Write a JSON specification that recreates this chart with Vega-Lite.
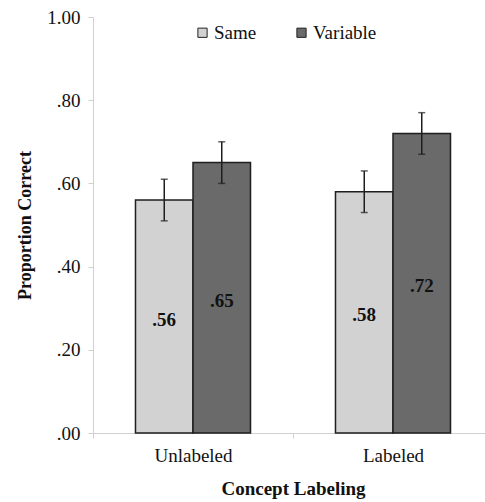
{
  "$schema": "https://vega.github.io/schema/vega-lite/v6.json",
  "autosize": {"type": "none"},
  "padding": {"left": 93, "top": 17, "right": 0, "bottom": 69},
  "width": 392,
  "height": 416,
  "background": "white",
  "config": {
    "view": {"stroke": null},
    "font": "Times New Roman, Liberation Serif, DejaVu Serif, serif"
  },
  "data": {
    "values": [
      {"concept": "Unlabeled", "condition": "Same", "value": 0.56, "lower": 0.51, "upper": 0.61, "label": ".56"},
      {"concept": "Unlabeled", "condition": "Variable", "value": 0.65, "lower": 0.60, "upper": 0.70, "label": ".65"},
      {"concept": "Labeled", "condition": "Same", "value": 0.58, "lower": 0.53, "upper": 0.63, "label": ".58"},
      {"concept": "Labeled", "condition": "Variable", "value": 0.72, "lower": 0.67, "upper": 0.77, "label": ".72"}
    ]
  },
  "encoding": {
    "x": {
      "field": "concept",
      "type": "nominal",
      "sort": ["Unlabeled", "Labeled"],
      "scale": {"range": [0, 400], "paddingInner": 0, "paddingOuter": 0},
      "axis": {
        "title": "Concept Labeling",
        "labelAngle": 0,
        "labelFont": "Times New Roman, Liberation Serif, DejaVu Serif, serif",
        "labelFontSize": 19,
        "labelColor": "#111",
        "labelPadding": 8,
        "titleFont": "Times New Roman, Liberation Serif, DejaVu Serif, serif",
        "titleFontSize": 19,
        "titleColor": "#111",
        "titleFontWeight": "bold",
        "titlePadding": 14,
        "tickBand": "extent",
        "tickSize": 5,
        "tickColor": "#d0d0d0",
        "domainColor": "#d0d0d0",
        "grid": false
      }
    },
    "xOffset": {
      "field": "condition",
      "type": "nominal",
      "sort": ["Same", "Variable"],
      "scale": {"paddingInner": 0, "paddingOuter": 0.739}
    }
  },
  "layer": [
    {
      "mark": {"type": "bar", "stroke": "#1e1e1e", "strokeWidth": 1.5},
      "encoding": {
        "y": {
          "field": "value",
          "type": "quantitative",
          "scale": {"domain": [0, 1]},
          "axis": {
            "title": "Proportion Correct",
            "values": [0, 0.2, 0.4, 0.6, 0.8, 1],
            "labelExpr": "replace(format(datum.value, '.2f'), /^0/, '')",
            "labelFont": "Times New Roman, Liberation Serif, DejaVu Serif, serif",
            "labelFontSize": 19,
            "labelColor": "#111",
            "labelPadding": 8,
            "tickSize": 5,
            "tickColor": "#d0d0d0",
            "domainColor": "#d0d0d0",
            "titleFont": "Times New Roman, Liberation Serif, DejaVu Serif, serif",
            "titleFontSize": 18,
            "titleColor": "#111",
            "titleFontWeight": "bold",
            "titlePadding": 12,
            "grid": false
          }
        },
        "fill": {
          "field": "condition",
          "type": "nominal",
          "sort": ["Same", "Variable"],
          "scale": {"domain": ["Same", "Variable"], "range": ["#d2d2d2", "#6a6a6a"]},
          "legend": {
            "title": null,
            "orient": "none",
            "direction": "horizontal",
            "legendX": 100,
            "legendY": 6,
            "padding": 0,
            "symbolType": "square",
            "symbolSize": 85,
            "symbolStrokeColor": "#222",
            "symbolStrokeWidth": 1,
            "labelFont": "Times New Roman, Liberation Serif, DejaVu Serif, serif",
            "labelFontSize": 19,
            "labelColor": "#111",
            "labelOffset": 2,
            "columnPadding": 35
          }
        }
      }
    },
    {
      "mark": {"type": "rule", "color": "#1e1e1e", "strokeWidth": 1.5},
      "encoding": {
        "y": {"field": "lower", "type": "quantitative"},
        "y2": {"field": "upper"}
      }
    },
    {
      "mark": {"type": "tick", "color": "#1e1e1e", "thickness": 1.5, "size": 7, "orient": "horizontal"},
      "encoding": {
        "y": {"field": "lower", "type": "quantitative"}
      }
    },
    {
      "mark": {"type": "tick", "color": "#1e1e1e", "thickness": 1.5, "size": 7, "orient": "horizontal"},
      "encoding": {
        "y": {"field": "upper", "type": "quantitative"}
      }
    },
    {
      "mark": {"type": "text", "font": "Times New Roman, Liberation Serif, DejaVu Serif, serif", "fontSize": 19, "fontWeight": "bold", "color": "#111", "baseline": "middle", "dy": 3, "y": {"expr": "scale('y', datum.value / 2)"}},
      "encoding": {
        "text": {"field": "label", "type": "nominal"}
      }
    }
  ]
}
